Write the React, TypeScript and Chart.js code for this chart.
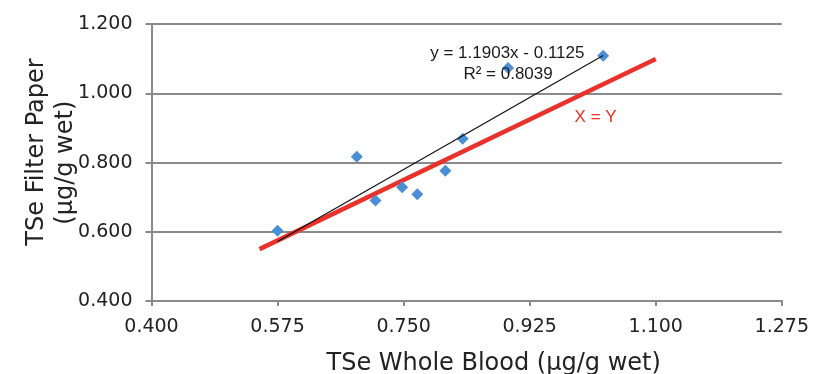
import React, { useEffect, useRef } from 'react';
import { Chart, registerables } from 'chart.js';

Chart.register(...registerables);

// ---- data ----
const wholeBlood = [0.575, 0.685, 0.711, 0.748, 0.769, 0.808, 0.832, 0.895, 1.027];
const filterPaper = [0.603, 0.817, 0.691, 0.729, 0.709, 0.777, 0.869, 1.074, 1.109];
const trendX = [0.575, 1.027];
const trendY = [0.572, 1.110];
const identityX = [0.55, 1.1];
const identityY = [0.55, 1.1];
const xTicks = [0.4, 0.575, 0.75, 0.925, 1.1, 1.275];
const yTicks = [0.4, 0.6, 0.8, 1.0, 1.2];
const equationText = 'y = 1.1903x - 0.1125';
const r2Text = 'R² = 0.8039';
const identityText = 'X = Y';
const xTitle = 'TSe Whole Blood (µg/g wet)';
const yTitle = ['TSe Filter Paper', '(µg/g wet)'];
// label anchors, in data units
const equationAt = [0.894, 1.117];
const r2At = [0.895, 1.057];
const identityAt = [1.0165, 0.931];
const xTitleAtX = 0.875;
const yTitleAtY = [0.831, 0.8];

const AXIS_FONT = '"DejaVu Sans", Verdana, sans-serif';
const NOTE_FONT = '"Liberation Sans", Arial, sans-serif';
const GRID = '#8a8a8a';
const TEXT = '#222222';

const labelPlugin = {
  id: 'trendLabels',
  afterDatasetsDraw(chart: any) {
    const { ctx } = chart;
    const x = chart.scales.x;
    const y = chart.scales.y;
    ctx.save();
    ctx.font = `17px ${NOTE_FONT}`;
    ctx.textAlign = 'center';
    ctx.textBaseline = 'middle';
    ctx.fillStyle = '#1a1a1a';
    ctx.fillText(equationText, x.getPixelForValue(equationAt[0]), y.getPixelForValue(equationAt[1]));
    ctx.fillText(r2Text, x.getPixelForValue(r2At[0]), y.getPixelForValue(r2At[1]));
    ctx.fillStyle = '#ee3124';
    ctx.fillText(identityText, x.getPixelForValue(identityAt[0]), y.getPixelForValue(identityAt[1]));
    ctx.restore();
  },
  afterDraw(chart: any) {
    const { ctx } = chart;
    const x = chart.scales.x;
    const y = chart.scales.y;
    ctx.save();
    ctx.font = `24px ${AXIS_FONT}`;
    ctx.fillStyle = TEXT;
    ctx.textAlign = 'center';
    // x-axis title
    ctx.textBaseline = 'alphabetic';
    ctx.fillText(xTitle, x.getPixelForValue(xTitleAtX), x.bottom - 10);
    // y-axis title (two rotated lines)
    ctx.textBaseline = 'middle';
    yTitle.forEach((line, i) => {
      ctx.save();
      ctx.translate(y.left + 37 + i * 28.5, y.getPixelForValue(yTitleAtY[i]));
      ctx.rotate(-Math.PI / 2);
      ctx.fillText(line, 0, 0);
      ctx.restore();
    });
    ctx.restore();
  },
};

export default function App() {
  const ref = useRef<HTMLCanvasElement | null>(null);

  useEffect(() => {
    if (!ref.current) return;
    const chart = new Chart(ref.current, {
      type: 'scatter',
      data: {
        datasets: [
          {
            label: 'Linear trend',
            data: trendX.map((v, i) => ({ x: v, y: trendY[i] })),
            showLine: true,
            borderColor: '#111111',
            borderWidth: 1.2,
            pointRadius: 0,
            order: 0,
          },
          {
            label: 'TSe',
            data: wholeBlood.map((v, i) => ({ x: v, y: filterPaper[i] })),
            pointStyle: 'rectRot',
            pointRadius: 6,
            backgroundColor: '#4a8fd6',
            borderColor: '#4a8fd6',
            borderWidth: 0,
            order: 1,
          },
          {
            label: 'X = Y',
            data: identityX.map((v, i) => ({ x: v, y: identityY[i] })),
            showLine: true,
            borderColor: '#e8322b',
            borderWidth: 4.5,
            pointRadius: 0,
            order: 2,
          },
        ],
      },
      options: {
        animation: false,
        responsive: false,
        devicePixelRatio: 1,
        layout: { padding: { left: 0, top: 21, right: 33, bottom: 0 } },
        plugins: { legend: { display: false }, tooltip: { enabled: false } },
        scales: {
          x: {
            type: 'linear',
            min: 0.4,
            max: 1.275,
            afterBuildTicks: (s: any) => {
              s.ticks = xTicks.map((v) => ({ value: v }));
            },
            afterFit: (s: any) => {
              s.height = 79;
            },
            grid: { drawOnChartArea: false, color: GRID, lineWidth: 2, tickLength: 5 },
            border: { color: GRID, width: 2 },
            ticks: {
              padding: 10,
              color: TEXT,
              maxRotation: 0,
              autoSkip: false,
              font: { family: AXIS_FONT, size: 19 },
              callback: (v: any) => Number(v).toFixed(3),
            },
            title: { display: false, text: xTitle },
          },
          y: {
            type: 'linear',
            min: 0.4,
            max: 1.2,
            afterBuildTicks: (s: any) => {
              s.ticks = yTicks.map((v) => ({ value: v }));
            },
            afterFit: (s: any) => {
              s.width = 151.5;
            },
            grid: { color: GRID, lineWidth: 2, tickLength: 6 },
            border: { color: GRID, width: 2 },
            ticks: {
              padding: 13,
              color: TEXT,
              font: { family: AXIS_FONT, size: 19 },
              callback: (v: any) => Number(v).toFixed(3),
            },
            title: { display: false, text: yTitle },
          },
        },
      },
      plugins: [labelPlugin],
    } as any);
    return () => chart.destroy();
  }, []);

  return (
    <div style={{ position: 'fixed', left: 0, top: 0, width: 819, height: 380, background: '#ffffff' }}>
      <canvas ref={ref} width={819} height={380} style={{ display: 'block' }} />
    </div>
  );
}
